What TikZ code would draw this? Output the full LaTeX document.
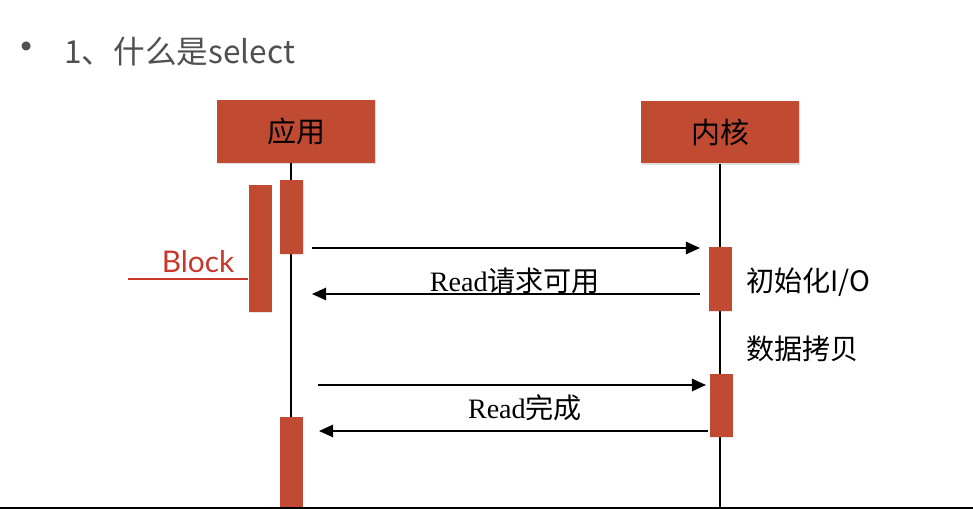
\documentclass[tikz,border=0pt]{standalone}
\usepackage{fontspec}
\setmainfont{Liberation Serif}
\newfontfamily\cjk{Noto Sans CJK SC}
\newfontfamily\blockfont{Lato}
\usepackage{xcolor}
\usepackage{tikz}
\usetikzlibrary{arrows.meta}
\usetikzlibrary{shadows}
\definecolor{BoxRed}{HTML}{C14B32}
\definecolor{BlockRed}{HTML}{C8382A}
\definecolor{TitleGray}{HTML}{505050}

\begin{document}
\begin{tikzpicture}[
  x = 0.02cm, y = -0.02cm,
  actor/.style = {
      fill = BoxRed, inner sep = 0pt,
      minimum width = 3.16cm, minimum height = 1.26cm,
      drop shadow = {opacity = .25, shadow xshift = .6pt, shadow yshift = -.8pt},
      font = \cjk\fontsize{16.5}{18}\selectfont
  },
  bar/.style = {
      fill = BoxRed, inner sep = 0pt, minimum width = .46cm,
      drop shadow = {opacity = .2, shadow xshift = .5pt, shadow yshift = -.6pt}
  },
  life/.style = {line width = 1.1pt},
  msg/.style = {line width = 1.1pt, -{Triangle[length = 8pt, width = 7pt]}},
  msgtext/.style = {inner sep = 0pt, font = \fontsize{16}{18}\selectfont},
  side/.style = {anchor = west, inner sep = 0pt, font = \cjk\fontsize{16}{18}\selectfont}
]
  \useasboundingbox (0, 0) rectangle (973, 509);

  % title line
  \node[TitleGray, inner sep = 0pt, font = \cjk\fontsize{24}{24}\selectfont] (bullet) at (27, 52) {•};
  \node[TitleGray, anchor = west, inner sep = 0pt, font = \cjk\fontsize{18}{20}\selectfont]
  (title) at (64, 52) {1、什么是select};

  % actors and lifelines
  \node[actor] (app) at (296, 131.5) {应用};
  \node[actor] (kernel) at (720, 132) {内核};
  \coordinate (appEnd) at (291, 507);
  \coordinate (kernelEnd) at (720, 507);
  \draw[life] (app.south -| appEnd) -- (appEnd);
  \draw[life] (kernel.south) -- (kernelEnd);

  \foreach \n/\x/\y/\h in {appTop/291.5/217/1.48, block/260/248.5/2.54,
                           appLow/291/462/1.80, kerA/720/279/1.28, kerB/721/405.5/1.26}
  \node[bar, minimum height = \h cm] (\n) at (\x, \y) {};

  % block marker
  \coordinate (blockFrom) at (128, 279);
  \draw[BlockRed, line width = 1.2pt] (blockFrom) -- (blockFrom -| block.west);
  \node[BlockRed, inner sep = 0pt, font = \blockfont\fontsize{17}{18}\selectfont]
  (blockText) at (198, 262) {Block};

  % messages
  \coordinate (reqFrom) at (312, 248);
  \coordinate (reqTo) at (700, 248);
  \coordinate (rdyFrom) at (700, 294);
  \coordinate (rdyTo) at (312, 294);
  \coordinate (cpyFrom) at (318, 385);
  \coordinate (cpyTo) at (706, 385);
  \coordinate (endFrom) at (708, 431);
  \coordinate (endTo) at (319, 431);
  \draw[msg] (reqFrom) -- (reqTo);
  \draw[msg] (rdyFrom) -- (rdyTo);
  \draw[msg] (cpyFrom) -- (cpyTo);
  \draw[msg] (endFrom) -- (endTo);
  \node[msgtext] (rdyText) at (515, 281) {Read{\cjk 请求可用}};
  \node[msgtext] (endText) at (525, 408) {Read{\cjk 完成}};

  \node[side] (initText) at (746, 282) {初始化I/O};
  \node[side] (copyText) at (746, 349) {数据拷贝};

  % lower edge
  \draw[line width = 1.2pt] (0, 508) -- (973, 508);
\end{tikzpicture}
\end{document}
